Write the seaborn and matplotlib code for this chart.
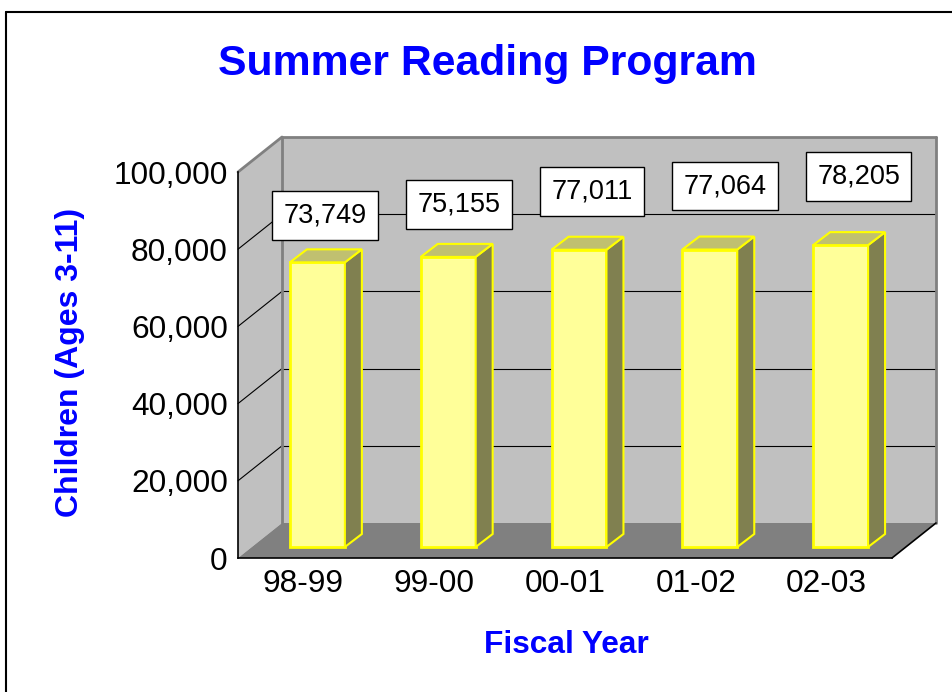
import matplotlib
matplotlib.use("Agg")
import matplotlib.pyplot as plt
import seaborn as sns
from matplotlib.transforms import Affine2D, IdentityTransform
from matplotlib.patches import Polygon
from matplotlib.lines import Line2D

# Data
years = ["98-99", "99-00", "00-01", "01-02", "02-03"]
children = [73749, 75155, 77011, 77064, 78205]
y_ticks = [0, 20000, 40000, 60000, 80000, 100000]

W, H = 952, 692
sns.set_style("white")
plt.rcParams["font.family"] = ["Liberation Sans", "DejaVu Sans"]

fig = plt.figure(figsize=(W / 100, H / 100), dpi=100)
ax = fig.add_axes([238 / W, (H - 558) / H, 654 / W, 386 / H])
ax.patch.set_alpha(0)

sns.barplot(x=years, y=children, color="#FFFF99", saturation=1, width=0.42,
            edgecolor="#FFFF00", linewidth=2, ax=ax, zorder=3)

ax.set_xlim(-0.5, 4.5)
ax.set_ylim(0, 100000)
ax.set_yticks(y_ticks)
ax.set_yticklabels([f"{v:,}" for v in y_ticks])
ax.set_xlabel("")
ax.set_ylabel("")
ax.tick_params(axis="y", length=5.8, width=1, pad=1.5, labelsize=22.8, colors="black")
ax.tick_params(axis="x", length=0, pad=8, labelsize=22.8, colors="black")
for s in ["top", "right"]:
    ax.spines[s].set_visible(False)
for s in ["left", "bottom"]:
    ax.spines[s].set_color("black")
    ax.spines[s].set_linewidth(1.2)

# 3D box: walls and floor, in pixels
ident = IdentityTransform()
DX, DY = 44, 35
x0, y0 = ax.transAxes.transform((0, 0))
x1, y1 = ax.transAxes.transform((1, 1))

def poly(pts, fc, z, ec="none", lw=0):
    ax.add_patch(Polygon(pts, closed=True, fc=fc, ec=ec, lw=lw,
                         transform=ident, clip_on=False, zorder=z))

def seg(p, q, color, lw, z=0.7):
    ax.add_line(Line2D([p[0], q[0]], [p[1], q[1]], color=color, lw=lw,
                       transform=ident, clip_on=False, zorder=z))

poly([(x0 + DX, y0 + DY), (x1 + DX, y0 + DY), (x1 + DX, y1 + DY), (x0 + DX, y1 + DY)], "#C0C0C0", 0.5)
poly([(x0, y0), (x0 + DX, y0 + DY), (x0 + DX, y1 + DY), (x0, y1)], "#C0C0C0", 0.5)
poly([(x0, y0), (x1, y0), (x1 + DX, y0 + DY), (x0 + DX, y0 + DY)], "#808080", 0.55)

for v in y_ticks[1:-1]:
    yv = ax.transData.transform((0, v))[1]
    seg((x0 + DX, yv + DY), (x1 + DX, yv + DY), "black", 0.8, 0.6)
    seg((x0, yv), (x0 + DX, yv + DY), "black", 0.8, 0.6)

seg((x0, y1), (x0 + DX, y1 + DY), "#808080", 2)
seg((x0 + DX, y1 + DY), (x1 + DX, y1 + DY), "#808080", 2)
seg((x0 + DX, y0 + DY), (x0 + DX, y1 + DY), "#808080", 2)
seg((x1 + DX, y0 + DY), (x1 + DX, y1 + DY), "#808080", 2)
seg((x1, y0), (x1 + DX, y0 + DY), "black", 1.2, 2.6)

# bars pushed into the box, with side and top faces
SX, SY = 14, 11
BDX, BDY = 17, 13
shift = Affine2D().translate(SX, SY)
for i, p in enumerate(ax.patches[:len(children)]):
    p.set_transform(ax.transData + shift)
    bx0, by0 = ax.transData.transform((p.get_x(), 0)) + (SX, SY)
    bx1, by1 = ax.transData.transform((p.get_x() + p.get_width(), p.get_height())) + (SX, SY)
    poly([(bx1, by0), (bx1 + BDX, by0 + BDY), (bx1 + BDX, by1 + BDY), (bx1, by1)],
         "#808050", 3, ec="#FFFF00", lw=1.5)
    poly([(bx0, by1), (bx1, by1), (bx1 + BDX, by1 + BDY), (bx0 + BDX, by1 + BDY)],
         "#C0C070", 3, ec="#FFFF00", lw=1.5)
    ax.annotate(f"{children[i]:,}", xy=((bx0 + bx1) / 2, by1), xycoords=ident,
                xytext=(8 + 2.5 * i, 47 + 5.5 * i), textcoords="offset pixels",
                ha="center", va="center", fontsize=19.5, color="black", zorder=5,
                bbox=dict(boxstyle="square,pad=0.42", fc="white", ec="black", lw=1))

# titles
fig.text(487 / W, 1 - 64 / H, "Summer Reading Program", ha="center", va="center",
         fontsize=30.8, fontweight="bold", color="#0000FF")
fig.text(70 / W, 1 - 362 / H, "Children (Ages 3-11)", ha="center", va="center",
         rotation=90, fontsize=23, fontweight="bold", color="#0000FF")
fig.text(566 / W, 1 - 645 / H, "Fiscal Year", ha="center", va="center",
         fontsize=22.8, fontweight="bold", color="#0000FF")

# outer frame
fig.add_artist(Line2D([6 / W, 6 / W], [0, 1 - 12 / H], transform=fig.transFigure, color="black", lw=1.5))
fig.add_artist(Line2D([6 / W, 1], [1 - 12 / H, 1 - 12 / H], transform=fig.transFigure, color="black", lw=1.5))

fig.savefig("out.png", dpi=100)
plt.close()
